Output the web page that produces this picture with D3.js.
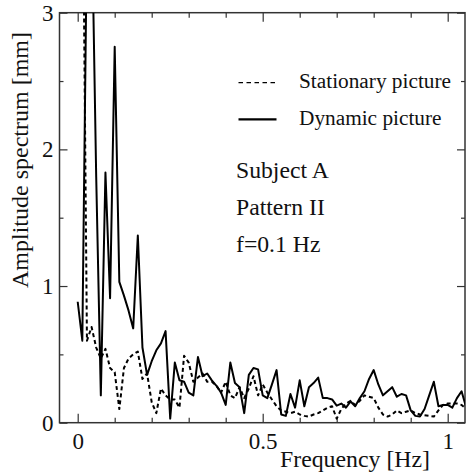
<!DOCTYPE html>
<html>
<head>
<meta charset="utf-8">
<script src="https://cdn.jsdelivr.net/npm/d3@7"></script>
<style>
  html, body { margin: 0; padding: 0; background: #fff; }
  svg text { font-family: "Liberation Serif", "Times New Roman", serif; fill: #111; }
  .axis path.domain { display: none; }
  .axis line { stroke: #333; stroke-width: 1.2; }
  .line { fill: none; stroke: #000; stroke-linejoin: round; }
</style>
</head>
<body>
<svg id="chart" width="466" height="476"></svg>
<script>
// frequency bins [Hz]
const freqs = [0, 0.0125, 0.025, 0.0375, 0.05, 0.0625, 0.075, 0.0875, 0.1, 0.1125,
  0.125, 0.1375, 0.15, 0.1625, 0.175, 0.1875, 0.2, 0.2125, 0.225, 0.2375,
  0.25, 0.2625, 0.275, 0.2875, 0.3, 0.3125, 0.325, 0.3375, 0.35, 0.3625,
  0.375, 0.3875, 0.4, 0.4125, 0.425, 0.4375, 0.45, 0.4625, 0.475, 0.4875,
  0.5, 0.5125, 0.525, 0.5375, 0.55, 0.5625, 0.575, 0.5875, 0.6, 0.6125,
  0.625, 0.6375, 0.65, 0.6625, 0.675, 0.6875, 0.7, 0.7125, 0.725, 0.7375,
  0.75, 0.7625, 0.775, 0.7875, 0.8, 0.8125, 0.825, 0.8375, 0.85, 0.8625,
  0.875, 0.8875, 0.9, 0.9125, 0.925, 0.9375, 0.95, 0.9625, 0.975, 0.9875,
  1, 1.0125, 1.025, 1.0375, 1.05];

// amplitude spectrum [mm]
const dynamicAmp = [0.885, 0.60, 3.6, 3.8, 1.8, 0.20, 1.83, 0.91, 2.75, 1.03,
  0.93, 0.82, 0.69, 1.37, 0.55, 0.35, 0.45, 0.53, 0.58, 0.67,
  0.03, 0.44, 0.31, 0.30, 0.22, 0.20, 0.48, 0.34, 0.36, 0.31,
  0.27, 0.22, 0.13, 0.44, 0.29, 0.26, 0.07, 0.35, 0.40, 0.39,
  0.20, 0.18, 0.28, 0.385, 0.06, 0.05, 0.21, 0.11, 0.31, 0.12,
  0.26, 0.29, 0.33, 0.18, 0.18, 0.17, 0.125, 0.14, 0.11, 0.155,
  0.12, 0.18, 0.23, 0.32, 0.385, 0.28, 0.20, 0.23, 0.26, 0.19,
  0.21, 0.20, 0.09, 0.05, 0.045, 0.10, 0.20, 0.30, 0.12, 0.13,
  0.13, 0.11, 0.18, 0.23, 0.11];

const stationaryAmp = [4.8, 4.4, 0.60, 0.70, 0.55, 0.47, 0.54, 0.40, 0.37, 0.10,
  0.40, 0.47, 0.50, 0.52, 0.32, 0.36, 0.15, 0.07, 0.25, 0.20,
  0.17, 0.17, 0.11, 0.49, 0.44, 0.30, 0.33, 0.36, 0.30, 0.30,
  0.27, 0.22, 0.30, 0.20, 0.18, 0.26, 0.18, 0.25, 0.34, 0.20,
  0.28, 0.22, 0.17, 0.12, 0.09, 0.08, 0.07, 0.08, 0.06, 0.05,
  0.045, 0.06, 0.07, 0.09, 0.11, 0.12, 0.03, 0.10, 0.14, 0.16,
  0.13, 0.16, 0.20, 0.19, 0.18, 0.11, 0.06, 0.045, 0.06, 0.09,
  0.07, 0.08, 0.09, 0.07, 0.06, 0.055, 0.05, 0.045, 0.09, 0.13,
  0.14, 0.14, 0.14, 0.13, 0.10];

const xMajor = [0, 0.5, 1];
const xMinor = [0.1, 0.2, 0.3, 0.4, 0.6, 0.7, 0.8, 0.9];
const yMajor = [0, 1, 2, 3];
const yMinor = [0.5, 1.5, 2.5];
const legendLabels = ["Stationary picture", "Dynamic picture"];
const noteLines = ["Subject A", "Pattern II", "f=0.1 Hz"];

const svg = d3.select("#chart");
const FRAME = { left: 59.5, right: 465, top: 12.7, bottom: 422.7 };

const x = d3.scaleLinear().domain([0, 1]).range([77.7, 447.7]);
const y = d3.scaleLinear().domain([0, 3]).range([FRAME.bottom, FRAME.top]);

svg.append("defs").append("clipPath").attr("id", "plotClip")
  .append("rect")
  .attr("x", FRAME.left).attr("y", FRAME.top)
  .attr("width", FRAME.right - FRAME.left).attr("height", FRAME.bottom - FRAME.top);

// ticks, all pointing inward
function tickAxis(axisFn, scale, vals, size, pos, labels) {
  const ax = axisFn(scale).tickValues(vals).tickSizeInner(-size).tickSizeOuter(0)
    .tickPadding(labels ? 8 : 0);
  if (!labels) ax.tickFormat("");
  else ax.tickFormat(d3.format("~g"));
  return svg.append("g").attr("class", "axis").attr("transform", pos).call(ax);
}
const bx = tickAxis(d3.axisBottom, x, xMajor, 9, `translate(0,${FRAME.bottom})`, true);
tickAxis(d3.axisBottom, x, xMinor, 5, `translate(0,${FRAME.bottom})`, false);
tickAxis(d3.axisTop, x, xMajor, 9, `translate(0,${FRAME.top})`, false);
tickAxis(d3.axisTop, x, xMinor, 5, `translate(0,${FRAME.top})`, false);
const ly = tickAxis(d3.axisLeft, y, yMajor, 8, `translate(${FRAME.left},0)`, true);
tickAxis(d3.axisLeft, y, yMinor, 4, `translate(${FRAME.left},0)`, false);
tickAxis(d3.axisRight, y, yMajor, 8, `translate(${FRAME.right},0)`, false);
tickAxis(d3.axisRight, y, yMinor, 4, `translate(${FRAME.right},0)`, false);

bx.selectAll("text").style("font-size", "23px").attr("dy", "0.78em");
ly.selectAll("text").style("font-size", "23px").attr("x", -6);

// frame
svg.append("rect")
  .attr("x", FRAME.left).attr("y", FRAME.top)
  .attr("width", FRAME.right - FRAME.left).attr("height", FRAME.bottom - FRAME.top)
  .attr("fill", "none").attr("stroke", "#333").attr("stroke-width", 1.5);

// series
const line = d3.line().x(d => x(d[0])).y(d => y(d[1]));
const plot = svg.append("g").attr("clip-path", "url(#plotClip)");

plot.append("path").attr("class", "line")
  .attr("d", line(freqs.map((f, i) => [f, stationaryAmp[i]])))
  .attr("stroke-width", 2).attr("stroke-dasharray", "4,3");

plot.append("path").attr("class", "line")
  .attr("d", line(freqs.map((f, i) => [f, dynamicAmp[i]])))
  .attr("stroke-width", 2);

// legend
const leg = svg.append("g");
legendLabels.forEach((lab, i) => {
  const yy = 82.7 + i * 36.6;
  leg.append("line")
    .attr("x1", 238.5).attr("x2", 276.5).attr("y1", yy).attr("y2", yy)
    .attr("stroke", "#000").attr("stroke-width", i ? 2.2 : 1.3)
    .attr("stroke-dasharray", i ? null : "4.5,3.5");
  leg.append("text").attr("x", 299).attr("y", yy + 5.6)
    .style("font-size", "21.3px").text(lab);
});

// annotation
noteLines.forEach((t, i) => {
  svg.append("text").attr("x", 236).attr("y", 178.3 + i * 36.7)
    .style("font-size", "23.7px").text(t);
});

// axis titles
svg.append("text").attr("x", 355).attr("y", 467)
  .attr("text-anchor", "middle").style("font-size", "23.8px")
  .text("Frequency [Hz]");

svg.append("text")
  .attr("transform", "translate(28,160) rotate(-90)")
  .attr("text-anchor", "middle").style("font-size", "24px")
  .text("Amplitude spectrum [mm]");
</script>
</body>
</html>
